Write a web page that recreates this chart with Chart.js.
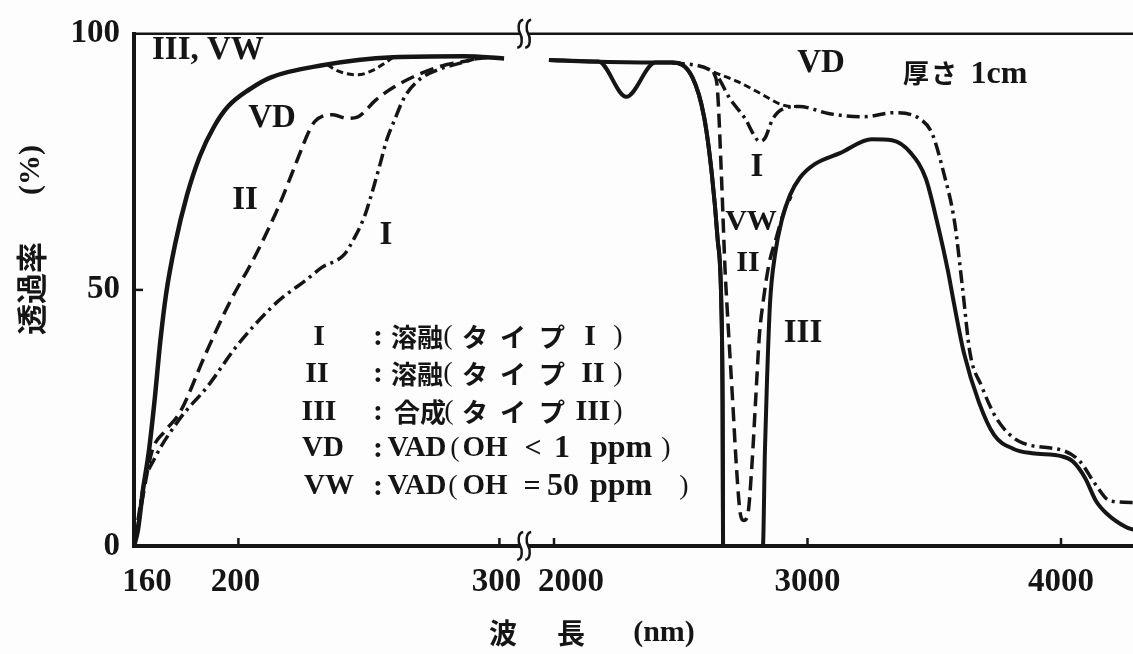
<!DOCTYPE html>
<html><head><meta charset="utf-8">
<script src="https://cdn.jsdelivr.net/npm/chart.js@4.4.0/dist/chart.umd.min.js"></script>
<style>html,body{margin:0;padding:0;background:#fdfdfd;}canvas{display:block}</style>
</head><body>
<canvas id="c" width="1133" height="654"></canvas>
<script>
// ---------------- data (wavelength nm, transmittance %) ----------------
const xTicks = [160, 200, 300, 2000, 3000, 4000];
const yTicks = [0, 50, 100];

// UV region
const uvIII_nm = [160, 161.5, 163.4, 165.7, 168.0, 170.0, 172.3, 175.7, 180.3, 185.3, 190.7, 196.0, 204.4, 212.5, 231.6, 259.2, 286.4, 301.8];
const uvIII_T  = [0, 3.1, 10.8, 18.5, 29.0, 39.6, 49.2, 58.8, 68.5, 76.2, 81.9, 85.8, 89.2, 91.5, 93.8, 95.4, 95.6, 95.2];

const uvII_nm = [160, 161, 163.1, 166.9, 172, 177.5, 187.6, 196.4, 206.7, 215.6, 223.2, 226.7, 229.3, 236.2, 241.6, 245.8, 252.7, 259.6, 269.2, 279.9, 288.4, 292];
const uvII_T  = [0, 2.5, 8.8, 18.5, 22.5, 26, 37.7, 47.3, 56.9, 66.5, 76.2, 80.6, 82.9, 84.2, 83.5, 83.8, 87.1, 89.6, 92.1, 94, 94.8, 95.4];

const uvI_nm = [160, 161.7, 163.8, 167.9, 177.5, 188.4, 199.3, 212.9, 218.6, 225.4, 232, 240.5, 244.5, 248.5, 251.2, 254.1, 256.9, 259.6, 263.7, 269.2, 276.1, 285.7, 289.5, 296];
const uvI_T  = [0, 5.6, 12.1, 17.1, 24.8, 31.3, 39, 46.7, 49.2, 51.7, 54.4, 56.9, 60.2, 64.6, 69, 74.2, 79.4, 82.9, 87.7, 91, 92.9, 94.4, 95, 95.4];

const uvVD_nm = [234, 237, 241.6, 245.8, 251.2, 256.2, 259];
const uvVD_T  = [94.0, 93.0, 92.2, 92.0, 92.8, 94.3, 95.3];

// IR region
const irIII_nm = [1980, 2142, 2175, 2285, 2400, 2465, 2546, 2592, 2622, 2645, 2660, 2665, 2667, 2824, 2832, 2840, 2852, 2872, 2899, 2931, 2970, 3030, 3128, 3254, 3333, 3408, 3467, 3511, 3554, 3578, 3617, 3676, 3736, 3811, 3886, 4004, 4047, 4095, 4138, 4181, 4256, 4290];
const irIII_T  = [94.9, 94.6, 94.6, 87.7, 94.4, 94.4, 91.5, 83.8, 72.9, 60.2, 47.3, 28.1, 0, 0, 18.5, 31.9, 47.3, 56.9, 63.7, 68.5, 71.9, 74.6, 76.7, 79.4, 79.2, 76.7, 71.7, 63.3, 53.7, 47.3, 37.7, 28.1, 21.7, 19, 18.1, 17.5, 16.5, 13.3, 8.8, 6.3, 3.7, 3.1];

const irVW_nm = [1980, 2142, 2400, 2465, 2546, 2592, 2622, 2645, 2660, 2665, 2667];
const irVW_T  = [94.9, 94.6, 94.4, 94.4, 91.5, 83.8, 72.9, 60.2, 47.3, 28.1, 0];

const irII_nm = [2630, 2645, 2660, 2675, 2682, 2705, 2720, 2735, 2749, 2765, 2780, 2795, 2810, 2824, 2848, 2877, 2907, 2935];
const irII_T  = [92.5, 89, 72.9, 53.7, 47.3, 28.1, 15.2, 6.3, 5, 6.3, 15.2, 28.1, 41, 47.3, 55, 60.2, 65.2, 68.3];

const irI_nm = [2465, 2630, 2697, 2756, 2787, 2810, 2832, 2862, 2907, 2966, 3087, 3222, 3341, 3446, 3491, 3537, 3580, 3611, 3641, 3686, 3747, 3836, 4016, 4075, 4135, 4194, 4290];
const irI_T  = [94.4, 92.5, 87.1, 83.3, 80.4, 79, 79.6, 83.3, 85.4, 85.8, 84.4, 83.8, 84.6, 83.3, 80.6, 72.9, 63.3, 50.6, 37.7, 31.3, 24.8, 20.4, 18.5, 16.5, 12.1, 8.8, 8.5];

const irVD_nm = [2630, 2727, 2816, 2891, 2938, 2966];
const irVD_T  = [92.5, 90.6, 88.3, 86.3, 85.8, 85.8];

const breakNm = 309.5; // axis break between 300 nm and 2000 nm

// ---------------- broken-axis mapping (nm -> linear axis unit) ----------------
const UV_SCALE = 2.61, IR_SCALE = 0.2535, IR_OFFSET = 420;
function u(nm) { return nm < 1000 ? (nm - 160) * UV_SCALE : IR_OFFSET + (nm - 2000) * IR_SCALE; }
function pts(nm, T) { return nm.map((n, i) => ({ x: u(n), y: T[i] })); }

const INK = '#151515';
const SERIF = '"Liberation Serif", "DejaVu Serif", serif';
const CJK = '"Noto Sans CJK JP", sans-serif';

const styleSolid = { borderDash: [], borderWidth: 4.5 };
const styleDash = { borderDash: [14, 7], borderWidth: 3.5 };
const styleDashDot = { borderDash: [13, 5, 3, 5], borderWidth: 3.5 };
const styleShort = { borderDash: [7, 4], borderWidth: 3 };

function ds(label, nm, T, st) {
  return Object.assign({
    label, data: pts(nm, T), borderColor: INK, backgroundColor: INK, fill: false,
    pointRadius: 0, cubicInterpolationMode: 'monotone', borderCapStyle: 'butt', borderJoinStyle: 'round'
  }, st);
}

const datasets = [
  ds('III (UV)', uvIII_nm, uvIII_T, styleSolid),
  ds('II (UV)', uvII_nm, uvII_T, styleDash),
  ds('I (UV)', uvI_nm, uvI_T, styleDashDot),
  ds('VD (UV)', uvVD_nm, uvVD_T, styleShort),
  ds('III (IR)', irIII_nm, irIII_T, Object.assign({}, styleSolid, { borderWidth: 4 })),
  ds('VW (IR)', irVW_nm, irVW_T, Object.assign({}, styleSolid, { borderWidth: 4 })),
  ds('II (IR)', irII_nm, irII_T, styleDash),
  ds('I (IR)', irI_nm, irI_T, styleDashDot),
  ds('VD (IR)', irVD_nm, irVD_T, styleShort),
];

// ---------------- annotation text (style / placement) ----------------
const xTickLabelShift = [13, -3, -3, 17, 0, 0];
const F33 = 'bold 33px ' + SERIF, F32 = 'bold 32px ' + SERIF, F30 = 'bold 30px ' + SERIF, F29 = 'bold 29px ' + SERIF;
const FC = 'bold 26px ' + CJK, FP = '28px ' + SERIF;
const notes = [
  ['III, VW', 152, 50, F33, 'left'],
  ['VD', 272, 118, F33], ['II', 245, 200, F33], ['I', 386, 235, F33],
  ['VD', 821, 63, F33], ['I', 757, 167, F33],
  ['VW', 751, 222, F30], ['II', 748, 263, F30], ['III', 803, 333, F33],
  ['厚', 916, 73, FC], ['さ', 944, 73, FC], ['1cm', 999, 75, F32],
];
const legendRows = [
  { y: 337, items: [['I', 319, F30], [':', 378, F30], ['溶融', 417, FC], ['(', 448, FP], ['タ', 475, FC], ['イ', 513, FC], ['プ', 552, FC], ['I', 590, F30], [')', 618, FP]] },
  { y: 374, items: [['II', 317, F30], [':', 378, F30], ['溶融', 417, FC], ['(', 448, FP], ['タ', 475, FC], ['イ', 513, FC], ['プ', 552, FC], ['II', 593, F30], [')', 618, FP]] },
  { y: 412, items: [['III', 319, F30], [':', 378, F30], ['合成', 420, FC], ['(', 449, FP], ['タ', 475, FC], ['イ', 513, FC], ['プ', 552, FC], ['III', 593, F30], [')', 618, FP]] },
  { y: 449, items: [['VD', 323, F29], [':', 378, F30], ['VAD', 417, F29], ['(', 455, FP], ['OH', 485, F29], ['<', 533, F30], ['1', 562, F32], ['ppm', 621, F32], [')', 666, FP]] },
  { y: 487, items: [['VW', 329, F29], [':', 378, F30], ['VAD', 417, F29], ['(', 453, FP], ['OH', 485, F29], ['=', 532, F30], ['50', 563, F32], ['ppm', 621, F32], [')', 684, FP]] },
];

function put(ctx, s, x, y, font, align) {
  ctx.font = font; ctx.textAlign = align || 'center'; ctx.textBaseline = 'middle';
  ctx.fillText(s, x, y);
}

function breakMark(ctx, x, y) {
  ctx.fillStyle = '#fdfdfd';
  ctx.fillRect(x - 4, y - 4, 8, 8);
  ctx.strokeStyle = INK; ctx.lineWidth = 2.5;
  [x - 4, x + 4].forEach(cx => {
    ctx.beginPath();
    ctx.moveTo(cx + 3, y - 14);
    ctx.bezierCurveTo(cx - 3, y - 13, cx - 2, y - 3, cx, y);
    ctx.bezierCurveTo(cx + 2, y + 3, cx + 3, y + 13, cx - 3, y + 14);
    ctx.stroke();
  });
}

const decor = {
  id: 'decor',
  afterDraw(chart) {
    const ctx = chart.ctx, a = chart.chartArea, xs = chart.scales.x, ys = chart.scales.y;
    ctx.save();
    ctx.strokeStyle = INK; ctx.fillStyle = INK; ctx.lineCap = 'butt';
    // top frame line
    ctx.lineWidth = 2.5;
    ctx.beginPath(); ctx.moveTo(a.left - 2, a.top); ctx.lineTo(a.right, a.top); ctx.stroke();
    // inward tick marks
    ctx.lineWidth = 2.5;
    yTicks.filter(v => v > 0 && v < 100).forEach(v => {
      const py = ys.getPixelForValue(v);
      ctx.beginPath(); ctx.moveTo(a.left, py); ctx.lineTo(a.left + 9, py); ctx.stroke();
    });
    xTicks.filter(v => v > 160).forEach(v => {
      const px = xs.getPixelForValue(u(v));
      ctx.beginPath(); ctx.moveTo(px, a.bottom); ctx.lineTo(px, a.bottom - 8); ctx.stroke();
    });
    // axis break marks
    const bx = xs.getPixelForValue(u(breakNm));
    breakMark(ctx, bx, a.top);
    breakMark(ctx, bx, a.bottom);
    ctx.fillStyle = INK;
    // x tick labels
    xTicks.forEach((v, i) => put(ctx, String(v), xs.getPixelForValue(u(v)) + xTickLabelShift[i], 582, F33));
    // x axis title
    put(ctx, '波', 503, 633, 'bold 28px ' + CJK);
    put(ctx, '長', 571, 633, 'bold 28px ' + CJK);
    put(ctx, '(nm)', 664, 633, F30);
    // y axis title (rotated, reading bottom to top)
    ctx.save();
    ctx.translate(31, 0); ctx.rotate(-Math.PI / 2);
    put(ctx, '透過率', -335, 0, 'bold 31px ' + CJK, 'left');
    put(ctx, '(%)', -195, 0, F30, 'left');
    ctx.restore();
    // curve labels
    notes.forEach(n => put(ctx, n[0], n[1], n[2], n[3], n[4]));
    // key block
    legendRows.forEach(r => r.items.forEach(it => put(ctx, it[0], it[1], r.y, it[2])));
    ctx.restore();
  }
};

new Chart(document.getElementById('c'), {
  type: 'line',
  data: { datasets },
  options: {
    responsive: false, animation: false, devicePixelRatio: 1,
    layout: { padding: { top: 26, right: 0, left: 0, bottom: 0 } },
    plugins: { legend: { display: false }, tooltip: { enabled: false } },
    scales: {
      x: {
        type: 'linear', min: 0, max: 999,
        grid: { display: false, drawTicks: false },
        border: { display: true, width: 4, color: INK },
        ticks: { display: false },
        afterFit(s) { s.height = 108; }
      },
      y: {
        type: 'linear', min: 0, max: 100,
        afterBuildTicks(s) { s.ticks = yTicks.map(v => ({ value: v })); },
        grid: { display: false, drawTicks: false },
        border: { display: true, width: 4, color: INK },
        ticks: { font: { family: SERIF, size: 33, weight: 'bold' }, color: INK, padding: 14 },
        afterFit(s) { s.width = 134; }
      }
    }
  },
  plugins: [decor]
});
</script>
</body></html>
